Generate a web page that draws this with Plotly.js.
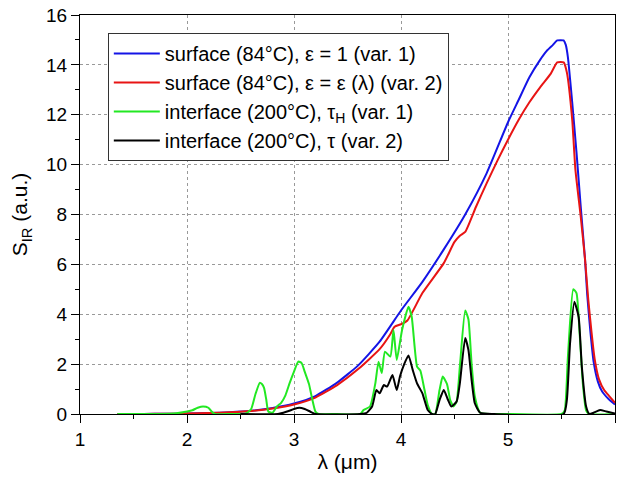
<!DOCTYPE html>
<html>
<head>
<meta charset="utf-8">
<script src="https://cdn.plot.ly/plotly-3.0.1.min.js"></script>
<style>html,body{margin:0;padding:0;background:#fff;}#chart{width:620px;height:477px;}</style>
</head>
<body>
<div id="chart"></div>
<script>
// Series names
const seriesNames = [
  "surface (84°C), ε = 1 (var. 1)",
  "surface (84°C), ε = ε (λ) (var. 2)",
  "interface (200°C), τ<sub>H</sub> (var. 1)",
  "interface (200°C), τ (var. 2)"
];

// Blue: surface, var. 1
const blueX = [1.35,1.6,1.8,2.0,2.2,2.4,2.6,2.8,3.0,3.2,3.4,3.6,3.8,4.0,4.2,4.4,4.6,4.8,5.0,5.1,5.2,5.3,5.36,5.42,5.46,5.52,5.54,5.56,5.6,5.64,5.68,5.72,5.74,5.77,5.8,5.84,5.88,5.94,6.0];
const blueY = [0,0.005,0.01,0.02,0.04,0.07,0.13,0.24,0.42,0.72,1.25,1.95,2.9,4.15,5.3,6.6,8.0,9.65,11.7,12.6,13.5,14.2,14.55,14.8,14.98,14.98,14.8,14.3,12.5,10.5,8.3,6.2,4.8,3.3,2.1,1.3,0.9,0.6,0.38];

// Red: surface, var. 2
const redX = [1.35,1.6,1.8,2.0,2.2,2.4,2.6,2.8,3.0,3.2,3.4,3.6,3.8,3.9,3.94,4.0,4.06,4.2,4.4,4.5,4.55,4.6,4.7,4.8,4.9,5.0,5.1,5.2,5.3,5.4,5.46,5.52,5.55,5.6,5.63,5.68,5.72,5.75,5.78,5.81,5.85,5.9,5.95,6.0];
const redY = [0,0.005,0.01,0.02,0.04,0.07,0.12,0.22,0.38,0.66,1.15,1.8,2.6,3.2,3.5,3.6,3.75,4.85,6.05,6.9,7.15,7.3,8.3,9.25,10.15,11.0,11.8,12.5,13.1,13.65,14.1,14.1,13.7,11.8,9.8,7.9,6.2,4.6,3.3,2.2,1.4,0.95,0.7,0.45];

// Green: interface, tau_H, var. 1
const greenX = [1.35,1.75,1.9,2.0,2.05,2.1,2.15,2.2,2.23,2.26,2.4,2.55,2.6,2.64,2.68,2.7,2.72,2.74,2.76,2.8,2.84,2.88,2.92,2.96,3.0,3.04,3.07,3.1,3.14,3.17,3.2,3.23,3.4,3.62,3.65,3.71,3.76,3.79,3.82,3.85,3.9,3.93,3.96,4.01,4.07,4.1,4.15,4.18,4.22,4.25,4.29,4.32,4.36,4.39,4.43,4.46,4.49,4.52,4.55,4.6,4.63,4.66,4.69,4.74,5.0,5.5,5.53,5.56,5.61,5.64,5.67,5.7,5.73,5.76,6.0];
const greenY = [0,0,0.03,0.1,0.15,0.25,0.3,0.25,0.1,0,0,0.02,0.2,0.8,1.25,1.2,1.05,0.6,0.1,0.05,0.3,0.45,0.75,1.25,1.7,2.1,2.05,1.7,1.2,0.6,0.1,0,0,0,0.16,0.3,1.23,2.1,1.64,2.5,2.3,3.37,2.17,3.37,4.3,3.9,1.9,1.75,0.96,0.36,0,0,0.96,1.5,1.2,0.56,0.3,0.5,1.9,4.15,3.8,2.0,0.7,0.05,0,0,0.15,2.3,5.0,4.85,3.2,1.2,0.15,0,0];

// Black: interface, tau, var. 2
const blackX = [2.5,2.85,2.9,2.95,3.0,3.05,3.1,3.15,3.2,3.62,3.68,3.73,3.77,3.8,3.84,3.87,3.92,3.96,3.99,4.03,4.07,4.11,4.15,4.2,4.25,4.29,4.32,4.36,4.4,4.44,4.47,4.52,4.55,4.6,4.63,4.66,4.69,4.74,4.87,5.52,5.55,5.58,5.62,5.66,5.69,5.73,5.76,5.8,5.86,5.92,6.0];
const blackY = [0,0,0.05,0.12,0.2,0.25,0.2,0.1,0,0,0.05,0.3,0.96,0.83,1.16,1.1,1.56,0.96,1.5,2.0,2.35,1.76,1.23,0.83,0.16,0,0,0.56,0.96,0.56,0.3,0.5,1.23,3.05,2.57,1.36,0.43,0.05,0,0,0.56,2.84,4.5,3.9,1.9,0.3,0,0.05,0.16,0.1,0.02];

const colors = ["#1414e6", "#e81414", "#22e822", "#000000"];
const xs = [blueX, redX, greenX, blackX];
const ys = [blueY, redY, greenY, blackY];

const traces = seriesNames.map((n, i) => ({
  type: "scatter", mode: "lines", name: n,
  x: xs[i], y: ys[i],
  line: {color: colors[i], width: 2, shape: "spline", smoothing: 0.5}
}));

const font = "Liberation Sans, Arial, sans-serif";
const layout = {
  width: 620, height: 477,
  margin: {l: 80, r: 5, t: 15, b: 63},
  paper_bgcolor: "#fff", plot_bgcolor: "#fff",
  font: {family: font, size: 19, color: "#000"},
  showlegend: true,
  legend: {
    x: 0.052, y: 0.955, xanchor: "left", yanchor: "top",
    bgcolor: "#fff", bordercolor: "#333", borderwidth: 1,
    font: {family: font, size: 20, color: "#000"},
    itemwidth: 46, tracegroupgap: 0
  },
  xaxis: {
    range: [1, 6], tick0: 1, dtick: 1, autorange: false,
    showline: true, mirror: true, linecolor: "#000", linewidth: 1,
    ticks: "outside", ticklen: 8, tickcolor: "#000",
    minor: {ticks: "outside", dtick: 0.5, ticklen: 4, tickcolor: "#000", showgrid: false},
    showgrid: true, gridcolor: "#999", griddash: "dot", gridwidth: 1,
    zeroline: false,
    tickfont: {size: 19},
    title: {text: "λ (μm)", font: {size: 21}, standoff: 5}
  },
  yaxis: {
    range: [0, 16], tick0: 0, dtick: 2, autorange: false,
    showline: true, mirror: true, linecolor: "#000", linewidth: 1,
    ticks: "outside", ticklen: 8, tickcolor: "#000",
    minor: {ticks: "outside", dtick: 1, ticklen: 4, tickcolor: "#000", showgrid: false},
    showgrid: true, gridcolor: "#999", griddash: "dot", gridwidth: 1,
    zeroline: false,
    tickfont: {size: 19},
    title: {text: "S<sub>IR</sub> (a.u.)", font: {size: 21}, standoff: 12}
  }
};

Plotly.newPlot("chart", traces, layout, {displayModeBar: false, staticPlot: true});
</script>
</body>
</html>
